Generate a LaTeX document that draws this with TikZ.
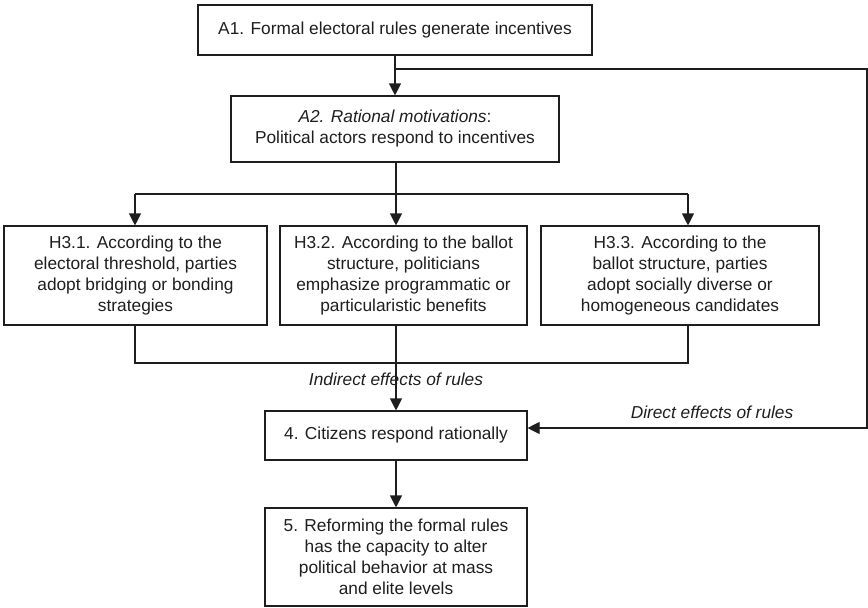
\documentclass[tikz,border=0pt]{standalone}
\usepackage{fontspec}
\setmainfont{Liberation Sans}
\usetikzlibrary{arrows.meta}
\definecolor{ink}{HTML}{1E1E1E}
\begin{document}
\begin{tikzpicture}[x=1pt,y=-1pt,
  box/.style={draw=ink,line width=1.1pt,align=center,inner sep=0pt,text=ink,
    font=\fontsize{17.3}{21}\selectfont},
  lbl/.style={text=ink,inner sep=0pt,font=\fontsize{17.3}{21}\selectfont\itshape},
  conn/.style={draw=ink,line width=1.1pt},
  arr/.style={conn,-{Triangle[width=12pt,length=12pt]}}]
\useasboundingbox (0,0) rectangle (868,608);
\node[box,minimum width=394pt,minimum height=50pt] (A1) at (395,30) {A1. Formal electoral rules generate incentives};
\node[box,minimum width=328pt,minimum height=66pt] (A2) at (395,129) {\textit{A2. Rational motivations}:\\Political actors respond to incentives};
\node[box,minimum width=263pt,minimum height=99pt] (H1) at (135.5,275.5) {H3.1. According to the\\electoral threshold, parties\\adopt bridging or bonding\\strategies};
\node[box,minimum width=247pt,minimum height=99pt] (H2) at (403.5,275.5) {H3.2. According to the ballot\\structure, politicians\\emphasize programmatic or\\particularistic benefits};
\node[box,minimum width=278pt,minimum height=99pt] (H3) at (680,275.5) {H3.3. According to the\\ballot structure, parties\\adopt socially diverse or\\homogeneous candidates};
\node[box,minimum width=262pt,minimum height=49pt] (C4) at (396,435.5) {4. Citizens respond rationally};
\node[box,minimum width=262pt,minimum height=98pt] (R5) at (396,557) {5. Reforming the formal rules\\has the capacity to alter\\political behavior at mass\\and elite levels};
\node[lbl] (ind) at (396,379) {Indirect effects of rules};
\node[lbl] (dir) at (712,412) {Direct effects of rules};
\coordinate (j1) at (395,69);
\coordinate (tr) at (867,69);
\coordinate (hb) at (396,194);
\coordinate (hl) at (135,194);
\coordinate (hr) at (688,194);
\coordinate (bl) at (135,363);
\coordinate (br) at (688,363);
\draw[arr] (A1.south) -- (A2.north);
\draw[arr] (j1) -- (tr) |- ([yshift=7.5pt]C4.east);
\draw[conn] (hb |- A2.south) -- (hb);
\draw[conn] (hl) -- (hr);
\draw[arr] (hl) -- (hl |- H1.north);
\draw[arr] (hb) -- (hb |- H2.north);
\draw[arr] (hr) -- (hr |- H3.north);
\draw[conn] (bl |- H1.south) -- (bl) -- (br) -- (br |- H3.south);
\draw[arr] (hb |- H2.south) -- (hb |- C4.north);
\draw[arr] (C4.south) -- (R5.north);
\end{tikzpicture}
\end{document}
